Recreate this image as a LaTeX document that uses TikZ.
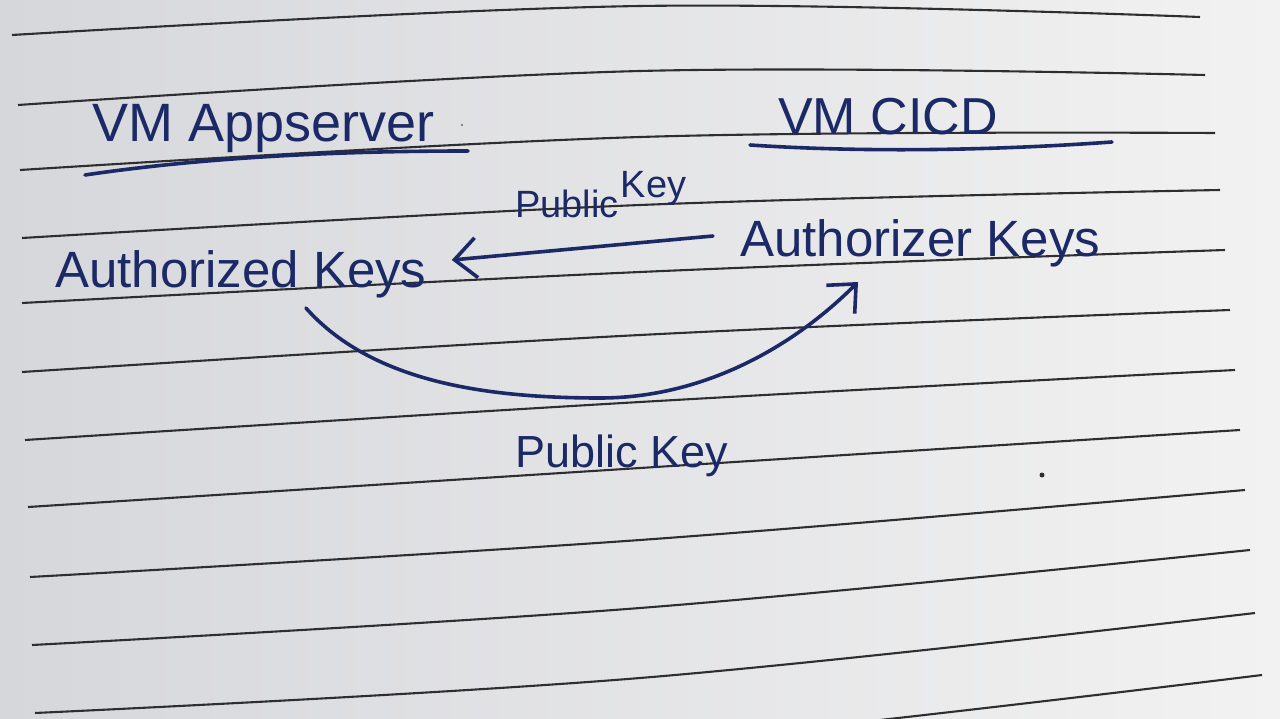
\documentclass[tikz,border=0pt]{standalone}
\usepackage{fontspec}
\setmainfont{Liberation Sans}
\usetikzlibrary{arrows.meta}
\definecolor{ink}{HTML}{1B2A66}
\definecolor{rule}{HTML}{2E2E30}
\definecolor{paperL}{HTML}{D6D7DB}
\definecolor{paperR}{HTML}{F2F2F2}
\tikzset{
  handtext/.style={inner sep=0pt, text=ink},
  ruleline/.style={draw=rule, line width=2.1pt},
  inkline/.style={draw=ink, line width=3.6pt, line cap=round},
  inkarrow/.style={inkline, -{Straight Barb[length=22pt,width=40pt,line width=3.6pt]}},
}
\begin{document}
\begin{tikzpicture}[x=1pt,y=-1pt]
\useasboundingbox (0,0) rectangle (1280,719);
\shade[left color=paperL, right color=paperR] (0,0) rectangle (1280,719);
\begin{scope}
\clip (0,0) rectangle (1280,719);
\foreach \la/\lb/\mid/\rx/\ry in {
  12/35/6/1200/17,
  18/105/71/1205/75,
  20/170/137/1215/133,
  22/238/205/1220/190,
  22/303/272/1225/250,
  22/372/335/1230/310,
  25/440/402/1235/370,
  28/507/468/1240/430,
  30/577/540/1245/490,
  32/645/608/1250/550,
  35/713/678/1255/613,
  40/785/745/1262/675}{
  \draw[ruleline] plot[smooth, tension=0.6] coordinates {(\la,\lb) (640,\mid) (\rx,\ry)};
}
\end{scope}
% headings
\node[handtext, anchor=base west, font=\fontsize{54}{60}\selectfont] (apps) at (92,142) {VM Appserver};
\draw[inkline] (85,175) .. controls (200,158) and (330,151) .. (468,151);
\node[handtext, anchor=base west, font=\fontsize{52}{60}\selectfont] (cicd) at (778,135) {VM CICD};
\draw[inkline] (750,145) .. controls (870,153) and (1000,150) .. (1112,142);
% key stores
\node[handtext, anchor=base west, font=\fontsize{51}{60}\selectfont] (authd) at (55,288) {Authorized Keys};
\node[handtext, anchor=base west, font=\fontsize{51}{60}\selectfont] (authr) at (740,257) {Authorizer Keys};
% labels
\node[handtext, anchor=base west, font=\fontsize{38}{44}\selectfont] (pk1) at (515,218) {Public\hspace{2pt}\raisebox{20pt}{Key}};
\node[handtext, anchor=base west, font=\fontsize{45}{52}\selectfont] (pk2) at (515,467) {Public Key};
% connectors
\draw[inkarrow] ([xshift=-27pt,yshift=21pt]authr.base west) -- ([xshift=25pt,yshift=28pt]authd.base east);
\draw[inkarrow] ([xshift=65pt,yshift=-20pt]authd.base)
  .. controls (370,380) and (480,398) .. (600,398)
  .. controls (700,398) and (790,350) .. ([xshift=118pt,yshift=-25pt]authr.base west);
% specks on the paper
\fill[rule] (1042,475) circle (2.5);
\fill[rule!70] (462,125) circle (1.2);
\end{tikzpicture}
\end{document}
